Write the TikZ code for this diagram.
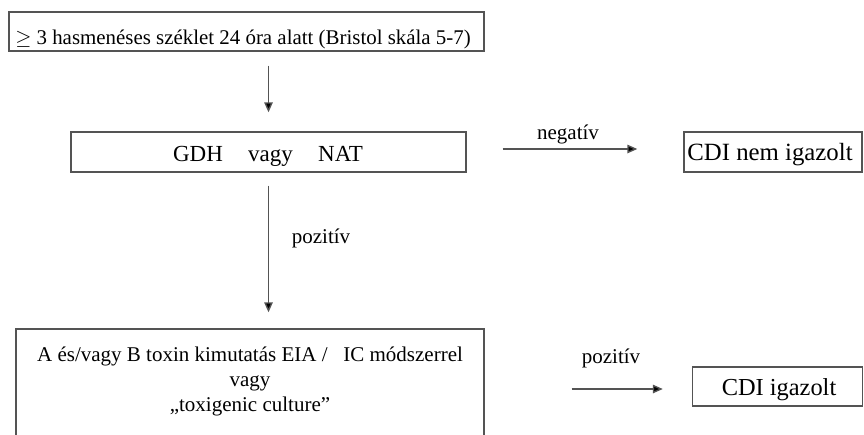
\documentclass[tikz,border=0pt]{standalone}
\usepackage{fontspec}
\setmainfont{Liberation Serif}
\usetikzlibrary{arrows.meta,calc}
\definecolor{linegray}{rgb}{0.33,0.33,0.33}
\begin{document}
\begin{tikzpicture}[x=1pt,y=-1pt,
  boxstyle/.style={draw=linegray,line width=1.4pt,inner sep=0pt,anchor=center},
  arr/.style={draw=linegray,line width=1.4pt,-{Triangle[length=10pt,width=8.5pt,fill=black]}},
  lbl/.style={inner sep=0pt,anchor=base,font=\fontsize{21}{25}\selectfont}]
\useasboundingbox (0,0) rectangle (864,434);
\clip (0,0) rectangle (864,434);
% boxes
\node[boxstyle,minimum width=475pt,minimum height=39pt] (top) at (246.5,31.5) {};
\node[boxstyle,minimum width=395pt,minimum height=40pt] (gdh) at (268.5,152) {};
\node[boxstyle,minimum width=178pt,minimum height=40pt] (cdin) at (773,152) {};
\node[boxstyle,minimum width=468pt,minimum height=120pt] (tox) at (250,389) {};
\node[boxstyle,minimum width=170pt,minimum height=39pt] (cdii) at (777.5,386.5) {};
% texts
\node[lbl,font=\fontsize{20.9}{25}\selectfont] (toptext) at (243,44) {$\geq$ 3 hasmenéses széklet 24 óra alatt (Bristol skála 5-7)};
\node[lbl,font=\fontsize{23}{27}\selectfont] (gdhtext) at (268,161.5) {GDH\hspace{1.1em}vagy\hspace{1.1em}NAT};
\node[lbl,font=\fontsize{24.8}{28}\selectfont] (cdintext) at (770,160.5) {CDI nem igazolt};
\node[lbl,font=\fontsize{24.4}{28}\selectfont] (cdiitext) at (779,395) {CDI igazolt};
\node[lbl] (t1) at (250,361.5) {A és/vagy B toxin kimutatás EIA /\hspace{0.5em} IC módszerrel};
\node[lbl] (t2) at (250,386.5) {vagy};
\node[lbl] (t3) at (250,411) {„toxigenic culture”};
% connectors
\draw[arr,shorten <=14pt,shorten >=19pt] (gdh.north |- top.south) -- (gdh.north);
\draw[arr,shorten <=13pt,shorten >=16pt] (gdh.south) -- (gdh.south |- tox.north);
\draw[arr,shorten <=36pt,shorten >=46pt] ($(gdh.east)+(0,-3)$) coordinate (ne) -- (ne -| cdin.west);
\draw[arr,shorten <=87pt,shorten >=29pt] (tox.east) -- (tox.east -| cdii.west);
% labels
\node[lbl] (neg) at (568,139) {negatív};
\node[lbl] (poz1) at (321,243) {pozitív};
\node[lbl] (poz2) at (611,363) {pozitív};
\end{tikzpicture}
\end{document}
